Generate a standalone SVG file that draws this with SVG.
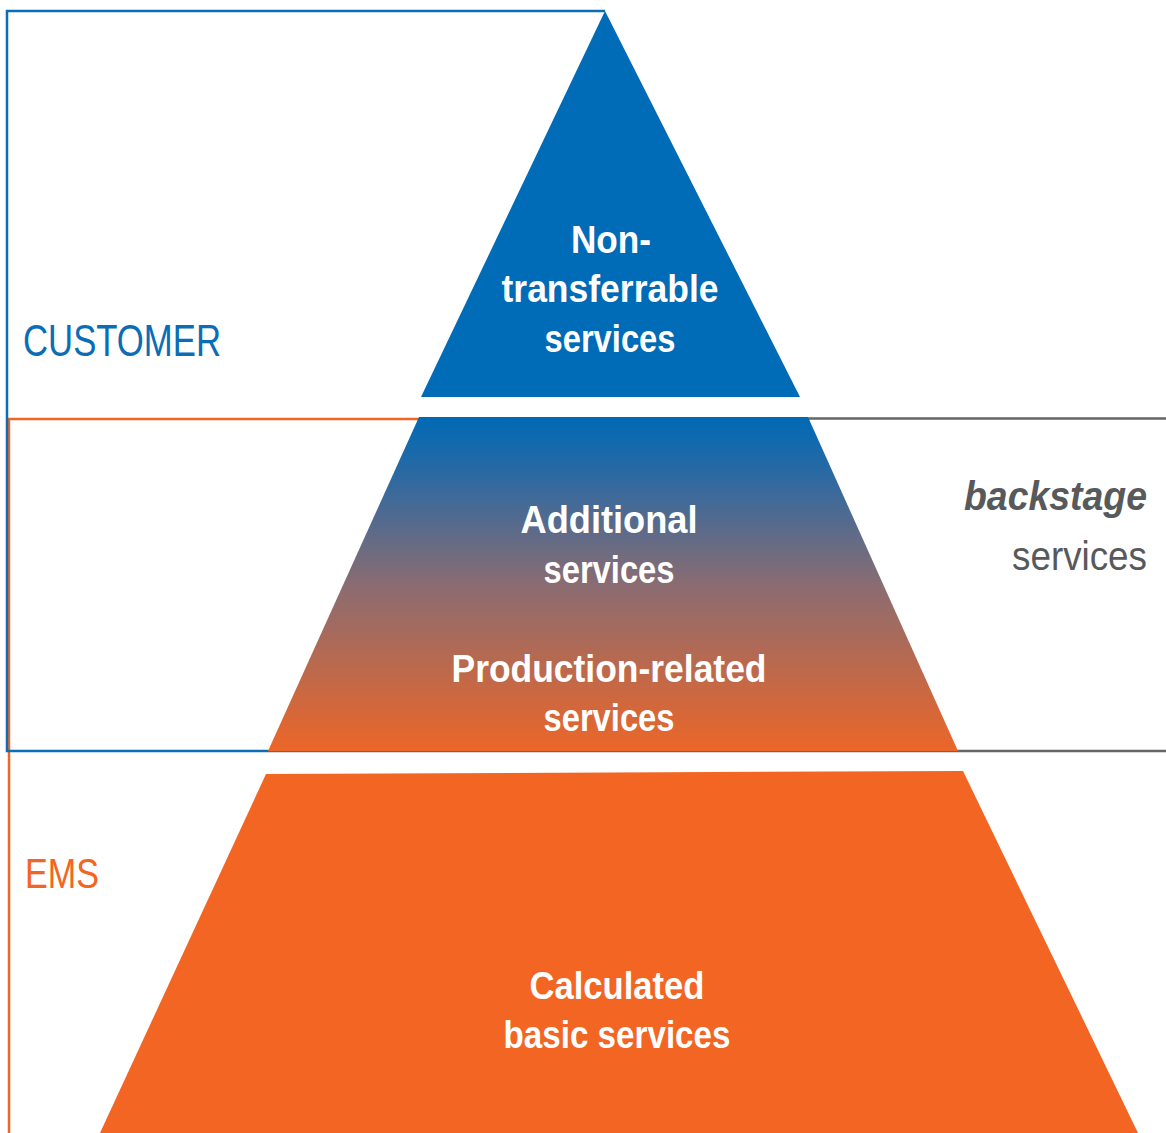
<svg xmlns="http://www.w3.org/2000/svg" width="1166" height="1133" viewBox="0 0 1166 1133">
<style>
.t{font-family:"Liberation Sans Narrow","Liberation Sans",sans-serif;}
.w{fill:#fff;font-weight:bold;font-size:38px;text-anchor:middle;}
.g{fill:#58595b;font-size:40px;text-anchor:end;}
</style>
<defs>
<linearGradient id="grad" x1="0" y1="0" x2="0" y2="1">
<stop offset="0" stop-color="#006AB4"/>
<stop offset="0.15" stop-color="#2569a6"/>
<stop offset="0.5" stop-color="#8a6c72"/>
<stop offset="1" stop-color="#EC6628"/>
</linearGradient>
</defs>
<rect width="1166" height="1133" fill="#fff"/>
<g id="connectors" fill="none" stroke-width="2.5">
<path d="M420 418.5 H1166" stroke="#666"/>
<path d="M268 751 H1166" stroke="#666"/>
<path d="M9 1133 V419 H420" stroke="#F26522"/>
<path d="M605 11 H7 V751 H268" stroke="#0A6DB5"/>
</g>
<g id="top">
<polygon points="605,11 800,397 421,397" fill="#006BB6"/>
<text class="t w" x="611" y="253" textLength="80" lengthAdjust="spacingAndGlyphs">Non-</text>
<text class="t w" x="610" y="302" textLength="217" lengthAdjust="spacingAndGlyphs">transferrable</text>
<text class="t w" x="610" y="352" textLength="131" lengthAdjust="spacingAndGlyphs">services</text>
</g>
<g id="middle">
<polygon points="419,417 808,417 958,751 268,751" fill="url(#grad)"/>
<text class="t w" x="609" y="533" textLength="177" lengthAdjust="spacingAndGlyphs">Additional</text>
<text class="t w" x="609" y="583" textLength="131" lengthAdjust="spacingAndGlyphs">services</text>
<text class="t w" x="609" y="682" textLength="315" lengthAdjust="spacingAndGlyphs">Production-related</text>
<text class="t w" x="609" y="731" textLength="131" lengthAdjust="spacingAndGlyphs">services</text>
</g>
<g id="bottom">
<polygon points="266,774 963,771 1138,1133 100,1133" fill="#F26522"/>
<text class="t w" x="617" y="999" textLength="175" lengthAdjust="spacingAndGlyphs">Calculated</text>
<text class="t w" x="617" y="1048" textLength="227" lengthAdjust="spacingAndGlyphs">basic services</text>
</g>
<g id="customer">
<text class="t" x="23" y="356" fill="#0A6DB5" font-size="44" textLength="198" lengthAdjust="spacingAndGlyphs">CUSTOMER</text>
</g>
<g id="ems">
<text class="t" x="25" y="888" fill="#F26522" font-size="43" textLength="74" lengthAdjust="spacingAndGlyphs">EMS</text>
</g>
<g id="backstage">
<text class="t g" x="1147" y="510" font-style="italic" font-weight="bold" textLength="183" lengthAdjust="spacingAndGlyphs">backstage</text>
<text class="t g" x="1147" y="570" textLength="135" lengthAdjust="spacingAndGlyphs">services</text>
</g>
</svg>
